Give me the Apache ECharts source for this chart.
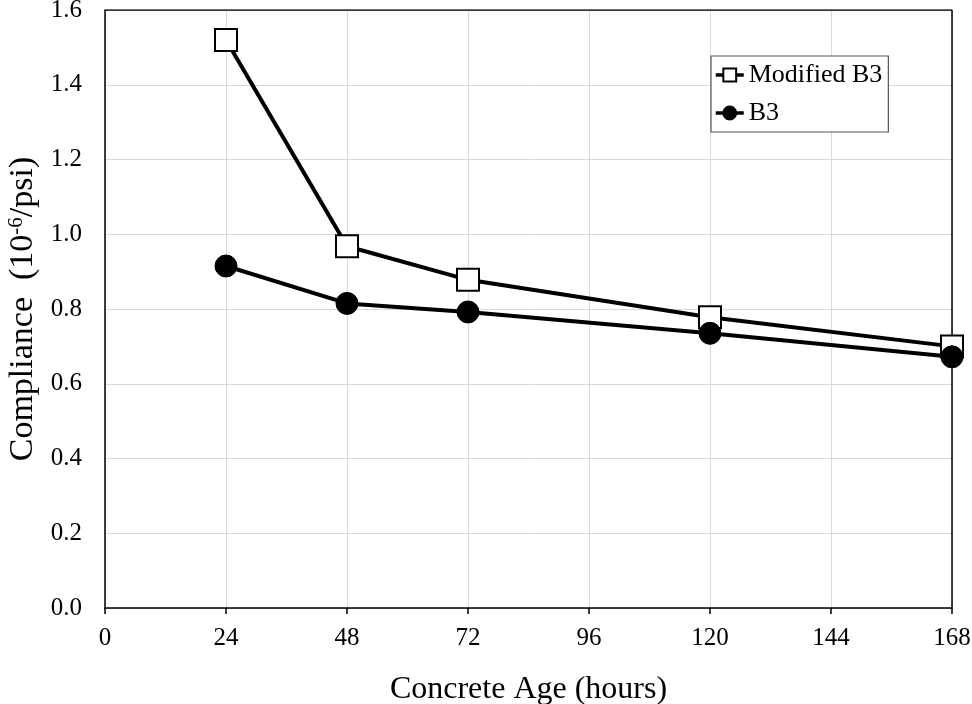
<!DOCTYPE html>
<html>
<head>
<meta charset="utf-8">
<script src="https://cdn.jsdelivr.net/npm/echarts@6/dist/echarts.min.js"></script>
<style>
  html, body { margin: 0; padding: 0; background: #fff; }
  #chart { width: 972px; height: 704px; }
</style>
</head>
<body>
<div id="chart"></div>
<script>
// concrete age (hours)
const ages = [24, 48, 72, 120, 168]
// compliance values (10^-6/psi)
const modifiedB3 = [1.52, 0.968, 0.878, 0.778, 0.700]
const b3 = [0.915, 0.815, 0.792, 0.735, 0.672]

const font = 'Liberation Serif, Times New Roman, serif'
const myChart = echarts.init(document.getElementById('chart'))

const option = {
  animation: false,
  textStyle: { fontFamily: font, color: '#000' },
  grid: { left: 105, right: 20, top: 10, bottom: 96, containLabel: false, outerBoundsMode: 'none' },
  legend: {
    left: 711,
    top: 56,
    orient: 'vertical',
    itemWidth: 28,
    itemHeight: 16,
    itemGap: 12,
    padding: [6, 6, 6, 3],
    borderColor: '#555',
    borderWidth: 1.2,
    backgroundColor: '#fff',
    lineStyle: { width: 3.5 },
    textStyle: { fontFamily: font, fontSize: 26, color: '#000' },
    data: ['Modified B3', 'B3']
  },
  xAxis: {
    type: 'value',
    min: 0,
    max: 168,
    interval: 24,
    name: 'Concrete Age (hours)',
    nameLocation: 'middle',
    nameGap: 66,
    nameTextStyle: { fontFamily: font, fontSize: 32, color: '#000' },
    axisLine: { onZero: false, lineStyle: { color: '#000', width: 1.5 } },
    axisTick: { show: true, inside: false, length: 6, lineStyle: { color: '#000', width: 1.5 } },
    axisLabel: { fontFamily: font, fontSize: 25, color: '#000', margin: 18 },
    splitLine: { show: true, lineStyle: { color: '#d9d9d9', width: 1 } }
  },
  yAxis: {
    type: 'value',
    min: 0,
    max: 1.6,
    interval: 0.2,
    name: '{a|Compliance  (10}{s|-6}{a|/psi)}',
    nameLocation: 'middle',
    nameGap: 62,
    nameRotate: 90,
    nameTextStyle: {
      rich: {
        a: { fontFamily: font, fontSize: 34, color: '#000' },
        s: { fontFamily: font, fontSize: 21, color: '#000', verticalAlign: 'top', padding: [0, 0, 13, 0] }
      }
    },
    axisLine: { show: true, lineStyle: { color: '#000', width: 1.5 } },
    axisTick: { show: false },
    axisLabel: {
      fontFamily: font, fontSize: 25, color: '#000', margin: 23,
      formatter: v => v.toFixed(1)
    },
    splitLine: { show: true, lineStyle: { color: '#d9d9d9', width: 1 } }
  },
  series: [
    {
      name: 'Modified B3',
      type: 'line',
      data: ages.map((a, i) => [a, modifiedB3[i]]),
      symbol: 'rect',
      symbolSize: 22,
      showAllSymbol: true,
      lineStyle: { color: '#000', width: 4 },
      itemStyle: { color: '#fff', borderColor: '#000', borderWidth: 2 },
      z: 3
    },
    {
      name: 'B3',
      type: 'line',
      data: ages.map((a, i) => [a, b3[i]]),
      symbol: 'circle',
      symbolSize: 22,
      showAllSymbol: true,
      lineStyle: { color: '#000', width: 4 },
      itemStyle: { color: '#000', borderColor: '#000', borderWidth: 1 },
      z: 4
    },
    {
      // frame around the plot area (top and right edges)
      type: 'line',
      data: [[0, 1.6], [168, 1.6], [168, 0]],
      symbol: 'none',
      silent: true,
      lineStyle: { color: '#000', width: 1.5 },
      z: 1
    }
  ]
}
myChart.setOption(option)
</script>
</body>
</html>
